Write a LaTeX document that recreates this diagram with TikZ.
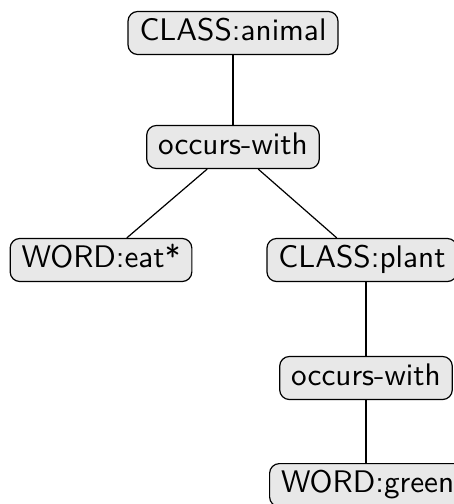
\documentclass[tikz,border=0pt]{standalone}
\usepackage{tikz}
\usetikzlibrary{positioning}
\tikzset{
  term/.style={rectangle, rounded corners=3.2pt, draw=black, line width=0.4pt, fill=gray!18,
               font=\sffamily\fontsize{10.3}{12}\selectfont, inner xsep=3.8pt, inner ysep=2.4pt,
               text height=7.2pt, text depth=2.2pt},
  link/.style={line width=0.4pt, draw=black},
}
\begin{document}
\begin{tikzpicture}[x=0.33pt, y=-0.33pt]
        \useasboundingbox (0,0) rectangle (454,504);
        \clip (0,0) rectangle (454,504);
        \node[term] (animal) at (233,33) {CLASS:animal};
        \node[term] (occ1) at (233,147) {occurs-with};
        \node[term] (eat) at (101,260) {WORD:eat*};
        \node[term] (plant) at (362,260) {CLASS:plant};
        \node[term] (occ2) at (366,378) {occurs-with};
        \node[term, anchor=north west] (green) at (269,463) {WORD:green};
        \draw[link] (animal) -- (occ1); \draw[link] (occ1) -- (eat); \draw[link] (occ1) -- (plant);
        \draw[link] (plant.south -| occ2) -- (occ2); \draw[link] (occ2) -- (occ2 |- green.north);
      \end{tikzpicture}
\end{document}
